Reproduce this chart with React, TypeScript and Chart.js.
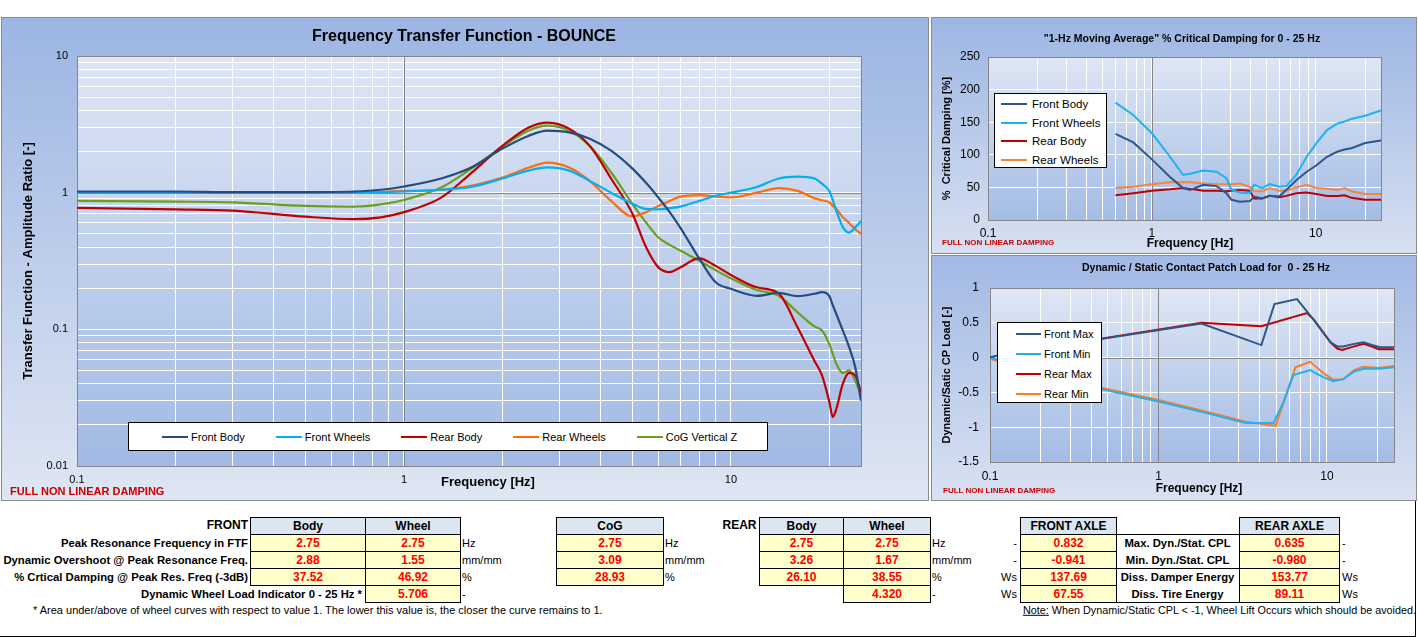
import { Chart, registerables, type ChartConfiguration, type Plugin } from "chart.js";
import { useEffect, useRef, type CSSProperties, type ReactNode } from "react";

Chart.register(...registerables);

const SANS = '"Liberation Sans", Arial, Helvetica, sans-serif';
Chart.defaults.font.family = SANS;
Chart.defaults.color = "#000000";

// ---------- Frequency Transfer Function - BOUNCE ----------
const ftfHz = [
  0.1, 0.2, 0.3, 0.5, 0.7, 0.85, 1, 1.3, 1.6, 2, 2.4, 2.75, 3.2, 3.7, 4.3, 5, 5.5, 6, 6.5, 7, 8, 9, 10,
  12, 14, 16, 18, 19, 20, 20.5, 21, 22, 23, 24, 25,
];
const ftfFrontBody = [
  1.02, 1.02, 1.01, 1.01, 1.02, 1.05, 1.11, 1.27, 1.52, 2.1, 2.6, 2.84, 2.76, 2.48, 2.03, 1.5, 1.18, 0.92,
  0.72, 0.555, 0.33, 0.22, 0.198, 0.176, 0.185, 0.175, 0.182, 0.187, 0.175, 0.15, 0.13, 0.098, 0.074, 0.053,
  0.03,
];
const ftfFrontWheels = [
  1.0, 1.0, 1.0, 1.0, 1.0, 1.01, 1.02, 1.05, 1.1, 1.27, 1.45, 1.53, 1.45, 1.22, 1.0, 0.83, 0.76, 0.755,
  0.77, 0.79, 0.87, 0.95, 1.0, 1.1, 1.27, 1.31, 1.27, 1.16, 1.03, 0.88, 0.74, 0.56, 0.51, 0.557, 0.62,
];
const ftfRearBody = [
  0.773, 0.755, 0.74, 0.667, 0.64, 0.66, 0.72, 0.92, 1.38, 2.2, 2.99, 3.26, 2.94, 2.2, 1.27, 0.7, 0.4, 0.284,
  0.262, 0.284, 0.33, 0.29, 0.25, 0.203, 0.183, 0.103, 0.059, 0.046, 0.0295, 0.0228, 0.026, 0.04, 0.048,
  0.046, 0.0345,
];
const ftfRearWheels = [
  0.995, 0.995, 0.995, 0.995, 1.0, 1.01, 1.03, 1.05, 1.12, 1.29, 1.52, 1.66, 1.53, 1.22, 0.87, 0.67, 0.72,
  0.8, 0.87, 0.935, 0.96, 0.935, 0.924, 1.0, 1.08, 1.03, 0.91, 0.88, 0.85, 0.8, 0.76, 0.66, 0.6, 0.54, 0.5,
];
const ftfCogZ = [
  0.87, 0.86, 0.85, 0.8, 0.79, 0.82, 0.884, 1.09, 1.49, 2.17, 2.84, 3.09, 2.84, 2.2, 1.41, 0.826, 0.606,
  0.47, 0.415, 0.377, 0.318, 0.27, 0.236, 0.194, 0.176, 0.133, 0.105, 0.098, 0.078, 0.066, 0.056, 0.048,
  0.05, 0.042, 0.033,
];
const ftfNames = ["Front Body", "Front Wheels", "Rear Body", "Rear Wheels", "CoG Vertical Z"];
const ftfColors = ["#244c82", "#00b0f0", "#c00000", "#ff6c0c", "#6c9e1a"];
const ftfValues = [ftfFrontBody, ftfFrontWheels, ftfRearBody, ftfRearWheels, ftfCogZ];

// ---------- "1-Hz Moving Average" % Critical Damping ----------
const dampHz = [
  0.6, 0.77, 1, 1.29, 1.55, 1.71, 2.06, 2.48, 2.85, 3.06, 3.44, 3.96, 4.2, 4.7, 5.24, 5.98, 6.6, 7.6, 8.8,
  10.1, 11.7, 13.6, 15, 16.5, 20, 25,
];
const dampFrontBody = [132, 119, 93, 66, 49, 46, 54, 52, 41, 31, 28, 29, 36, 33, 37, 36, 46, 61, 74, 84, 97, 105, 108, 110, 118, 122];
const dampFrontWheels = [180, 161, 133, 97, 69, 71, 76, 74, 64, 46, 42, 41, 54, 49, 55, 51, 52, 69, 97, 118, 138, 148, 151, 155, 160, 168];
const dampRearBody = [38, 41, 45, 47, 49, 48, 45, 45, 44, 45, 46, 45, 33, 33, 37, 35, 37, 41, 42, 40, 37, 37, 38, 34, 31, 31];
const dampRearWheels = [49, 51, 55, 58, 58, 58, 56, 55, 55, 55, 56, 51, 44, 44, 49, 45, 45, 50, 54, 49, 48, 46, 49, 44, 40, 40];
const dampNames = ["Front Body", "Front Wheels", "Rear Body", "Rear Wheels"];
const dampColors = ["#2c568c", "#1db3ed", "#c00000", "#f8843a"];
const dampValues = [dampFrontBody, dampFrontWheels, dampRearBody, dampRearWheels];

// ---------- Dynamic / Static Contact Patch Load ----------
const cplFrontMaxHz = [0.1, 0.12, 1.8, 4.08, 4.88, 6.64, 8.3, 10.5, 11.5, 12.5, 14, 16.5, 18.5, 20.7, 25];
const cplFrontMax = [0, 0.05, 0.49, 0.18, 0.77, 0.84, 0.55, 0.22, 0.16, 0.16, 0.19, 0.22, 0.18, 0.15, 0.15];
const cplFrontMinHz = [0.1, 0.47, 1, 1.8, 3.3, 4.82, 5.55, 6.33, 7.95, 9.5, 10.9, 12.5, 14.5, 16.5, 20.3, 25];
const cplFrontMin = [0, -0.46, -0.63, -0.78, -0.94, -0.94, -0.63, -0.25, -0.18, -0.28, -0.34, -0.31, -0.2, -0.16, -0.16, -0.14];
const cplRearMaxHz = [0.1, 0.12, 1.8, 4.08, 7.6, 8.34, 10.5, 11.5, 12.3, 14, 16.5, 18.5, 20.3, 25];
const cplRearMax = [0, 0.05, 0.5, 0.45, 0.64, 0.55, 0.22, 0.13, 0.11, 0.15, 0.2, 0.16, 0.12, 0.12];
const cplRearMinHz = [0.1, 0.47, 1, 1.8, 3.3, 4.95, 5.55, 6.5, 7.95, 9.5, 10.9, 12.5, 14.5, 16.5, 20.3, 25];
const cplRearMin = [-0.02, -0.44, -0.61, -0.76, -0.92, -0.98, -0.63, -0.14, -0.06, -0.22, -0.32, -0.31, -0.18, -0.13, -0.15, -0.12];
const cplNames = ["Front Max", "Front Min", "Rear Max", "Rear Min"];
const cplColors = ["#2f5687", "#22b1ea", "#c00000", "#f77d2a"];
const cplHz = [cplFrontMaxHz, cplFrontMinHz, cplRearMaxHz, cplRearMinHz];
const cplValues = [cplFrontMax, cplFrontMin, cplRearMax, cplRearMin];

// ---------- result tables ----------
const frontRowLabels = [
  "Peak Resonance Frequency in FTF",
  "Dynamic Overshoot @ Peak Resonance Freq.",
  "% Crtical Damping @ Peak Res. Freq (-3dB)",
];
const rowUnits = ["Hz", "mm/mm", "%", "-"];
const frontBodyVals = ["2.75", "2.88", "37.52"];
const frontWheelVals = ["2.75", "1.55", "46.92", "5.706"];
const cogVals = ["2.75", "3.09", "28.93"];
const rearBodyVals = ["2.75", "3.26", "26.10"];
const rearWheelVals = ["2.75", "1.67", "38.55", "4.320"];
const axleLabels = ["Max. Dyn./Stat. CPL", "Min. Dyn./Stat. CPL", "Diss. Damper Energy", "Diss. Tire Energy"];
const axleUnits = ["-", "-", "Ws", "Ws"];
const frontAxleVals = ["0.832", "-0.941", "137.69", "67.55"];
const rearAxleVals = ["0.635", "-0.980", "153.77", "89.11"];

const ROW_Y = [517, 534, 551, 568, 585];
const ROW_H = 17;

/** Gradient plot area, grey frame and the grey reference lines. */
const plotFrame: Plugin = {
  id: "plotFrame",
  beforeDraw(chart, _args, opts: any) {
    const { ctx, chartArea: a } = chart;
    const g = ctx.createLinearGradient(0, a.top, 0, a.bottom);
    g.addColorStop(0, opts.top);
    g.addColorStop(1, opts.bottom);
    ctx.save();
    ctx.fillStyle = g;
    ctx.fillRect(a.left, a.top, a.right - a.left, a.bottom - a.top);
    ctx.restore();
  },
  beforeDatasetsDraw(chart, _args, opts: any) {
    const { ctx, chartArea: a, scales } = chart;
    ctx.save();
    ctx.strokeStyle = "#868686";
    ctx.lineWidth = 1;
    ctx.beginPath();
    if (opts.refX != null) {
      const x = Math.round(scales.x.getPixelForValue(opts.refX)) + 0.5;
      ctx.moveTo(x, a.top);
      ctx.lineTo(x, a.bottom);
    }
    if (opts.refY != null) {
      const y = Math.round(scales.y.getPixelForValue(opts.refY)) + 0.5;
      ctx.moveTo(a.left, y);
      ctx.lineTo(a.right, y);
    }
    ctx.stroke();
    ctx.strokeRect(Math.round(a.left) + 0.5, Math.round(a.top) + 0.5, Math.round(a.right - a.left), Math.round(a.bottom - a.top));
    ctx.restore();
  },
};

function decadeTicks(min: number, max: number) {
  const out: { value: number }[] = [];
  for (let e = Math.floor(Math.log10(min)); e <= Math.ceil(Math.log10(max)); e++) {
    for (let k = 1; k < 10; k++) {
      const v = Number((k * Math.pow(10, e)).toPrecision(10));
      if (v >= min * 0.9999 && v <= max * 1.0001) out.push({ value: v });
    }
  }
  return out;
}

const isDecade = (v: number) => Math.abs(Math.log10(v) - Math.round(Math.log10(v))) < 1e-6;

function logAxis(min: number, max: number, side: "x" | "y", size: number, padding: number, fontSize: number) {
  return {
    type: "logarithmic",
    min,
    max,
    afterBuildTicks: (axis: any) => {
      axis.ticks = decadeTicks(min, max);
    },
    afterFit: (axis: any) => {
      if (side === "x") axis.height = size;
      else axis.width = size;
    },
    grid: { color: "#ffffff", lineWidth: 1, drawTicks: false },
    border: { display: false },
    ticks: {
      autoSkip: false,
      maxRotation: 0,
      minRotation: 0,
      padding,
      color: "#000000",
      font: { size: fontSize },
      callback: (v: number) => (isDecade(v) ? String(v) : ""),
    },
  };
}

function yTitle(text: string, size: number, pad: number) {
  return { display: true, text, color: "#000000", font: { size, weight: "bold" }, padding: { top: pad, bottom: 0 } };
}

function makeFtfConfig(): ChartConfiguration {
  return {
    type: "line",
    data: {
      datasets: ftfValues.map((vals, i) => ({
        label: ftfNames[i],
        data: ftfHz.map((x, j) => ({ x, y: vals[j] })),
        borderColor: ftfColors[i],
        borderWidth: 2.2,
        pointRadius: 0,
        cubicInterpolationMode: "monotone",
        fill: false,
      })),
    },
    options: {
      animation: false,
      responsive: true,
      maintainAspectRatio: false,
      layout: { padding: { top: 38, right: 66, left: 0, bottom: 0 } },
      plugins: {
        legend: { display: false },
        tooltip: { enabled: false },
        plotFrame: { top: "#dee6f4", bottom: "#a1b9e4", refX: 1, refY: 1 },
      } as any,
      scales: {
        x: logAxis(0.1, 25, "x", 34, 7, 11),
        y: { ...logAxis(0.01, 10, "y", 75, 9, 11), title: yTitle("Transfer Function - Amplitude Ratio [-]", 13, 19) },
      } as any,
    },
    plugins: [plotFrame],
  };
}

function makeDampConfig(): ChartConfiguration {
  return {
    type: "line",
    data: {
      datasets: dampValues.map((vals, i) => ({
        label: dampNames[i],
        data: dampHz.map((x, j) => ({ x, y: vals[j] })),
        borderColor: dampColors[i],
        borderWidth: 2,
        pointRadius: 0,
        tension: 0,
        fill: false,
      })),
    },
    options: {
      animation: false,
      responsive: true,
      maintainAspectRatio: false,
      layout: { padding: { top: 39, right: 35, left: 0, bottom: 0 } },
      plugins: {
        legend: { display: false },
        tooltip: { enabled: false },
        plotFrame: { top: "#dfe7f4", bottom: "#a4bce6", refX: 1 },
      } as any,
      scales: {
        x: logAxis(0.1, 25, "x", 33, 6, 12),
        y: {
          type: "linear",
          min: 0,
          max: 250,
          afterFit: (axis: any) => {
            axis.width = 56;
          },
          grid: { color: "#ffffff", drawTicks: false },
          border: { display: false },
          ticks: { stepSize: 50, padding: 8, font: { size: 12 }, color: "#000000" },
          title: yTitle("%  Critical Damping [%]", 11, 8),
        },
      } as any,
    },
    plugins: [plotFrame],
  };
}

function makeCplConfig(): ChartConfiguration {
  return {
    type: "line",
    data: {
      datasets: cplValues.map((vals, i) => ({
        label: cplNames[i],
        data: cplHz[i].map((x, j) => ({ x, y: vals[j] })),
        borderColor: cplColors[i],
        borderWidth: 2,
        pointRadius: 0,
        tension: 0,
        fill: false,
      })),
    },
    options: {
      animation: false,
      responsive: true,
      maintainAspectRatio: false,
      layout: { padding: { top: 32, right: 22, left: 0, bottom: 0 } },
      plugins: {
        legend: { display: false },
        tooltip: { enabled: false },
        plotFrame: { top: "#dfe7f4", bottom: "#a3bbe5", refX: 1, refY: 0 },
      } as any,
      scales: {
        x: logAxis(0.1, 25, "x", 38, 7, 12),
        y: {
          type: "linear",
          min: -1.5,
          max: 1,
          afterFit: (axis: any) => {
            axis.width = 58;
          },
          grid: { color: "#ffffff", drawTicks: false },
          border: { display: false },
          ticks: {
            stepSize: 0.5,
            padding: 11,
            font: { size: 12 },
            color: "#000000",
            callback: (v: number) => String(v),
          },
          title: yTitle("Dynamic/Satic CP Load [-]", 11, 8),
        },
      } as any,
    },
    plugins: [plotFrame],
  };
}

type Box = { left: number; top: number; width: number; height: number };

function ChartCanvas({ makeConfig, box }: { makeConfig: () => ChartConfiguration; box: Box }) {
  const canvasRef = useRef<HTMLCanvasElement>(null);

  useEffect(() => {
    if (!canvasRef.current) {
      return undefined;
    }
    const chart = new Chart(canvasRef.current, makeConfig());
    return () => chart.destroy();
  }, [makeConfig]);

  return (
    <div style={{ position: "absolute", ...box }}>
      <canvas ref={canvasRef} />
    </div>
  );
}

type TProps = { x: number; y: number; anchor?: "start" | "middle" | "end"; style?: CSSProperties; children: ReactNode };

/** Text placed by its anchor point; y is the vertical centre. */
function T({ x, y, anchor = "start", style, children }: TProps) {
  const dx = anchor === "start" ? "0" : anchor === "middle" ? "-50%" : "-100%";
  return (
    <div
      style={{
        position: "absolute",
        left: x,
        top: y,
        transform: `translate(${dx}, -50%)`,
        whiteSpace: "pre",
        lineHeight: 1.15,
        fontFamily: SANS,
        ...style,
      }}
    >
      {children}
    </div>
  );
}

function Panel({ box, from, to }: { box: Box; from: string; to: string }) {
  return (
    <div
      style={{
        position: "absolute",
        ...box,
        boxSizing: "border-box",
        border: "1px solid #8c8c8c",
        background: `linear-gradient(to bottom, ${from}, ${to})`,
      }}
    />
  );
}

function Key({ color, label, line, gap }: { color: string; label: string; line: number; gap: number }) {
  return (
    <span style={{ display: "inline-flex", alignItems: "center", whiteSpace: "nowrap" }}>
      <span style={{ display: "inline-block", width: line, borderTop: `2.5px solid ${color}`, marginRight: gap }} />
      {label}
    </span>
  );
}

function Cell({ x0, x1, row, rows = 1, kind, children }: { x0: number; x1: number; row: number; rows?: number; kind: "head" | "value" | "plain"; children?: ReactNode }) {
  const bg = kind === "head" ? "#dce6f1" : kind === "value" ? "#ffffcc" : "#ffffff";
  return (
    <div
      style={{
        position: "absolute",
        left: x0,
        top: ROW_Y[row],
        width: x1 - x0 + 1,
        height: ROW_H * rows + 1,
        boxSizing: "border-box",
        border: "1px solid #000000",
        background: bg,
        color: kind === "value" ? "#ff0000" : "#000000",
        fontFamily: SANS,
        fontWeight: "bold",
        fontSize: 12,
        display: "flex",
        alignItems: "center",
        justifyContent: "center",
      }}
    >
      {children}
    </div>
  );
}

const rowMid = (r: number) => ROW_Y[r] + ROW_H / 2 + 0.5;
const labelStyle: CSSProperties = { fontWeight: "bold", fontSize: 11.3 };
const unitStyle: CSSProperties = { fontSize: 11 };
const redNote: CSSProperties = { color: "#cc0000", fontWeight: "bold" };

export default function App() {
  return (
    <div
      style={{
        position: "fixed",
        left: 0,
        top: 0,
        width: 1418,
        height: 637,
        background: "#ffffff",
        overflow: "hidden",
        fontFamily: SANS,
        color: "#000000",
      }}
    >
      {/* main chart */}
      <Panel box={{ left: 1, top: 17, width: 928, height: 484 }} from="#9cb5e3" to="#dfe6f3" />
      <ChartCanvas makeConfig={makeFtfConfig} box={{ left: 2, top: 18, width: 925, height: 482 }} />
      <T x={464} y={36} anchor="middle" style={{ fontWeight: "bold", fontSize: 16 }}>
        Frequency Transfer Function - BOUNCE
      </T>
      <T x={488} y={482} anchor="middle" style={{ fontWeight: "bold", fontSize: 13 }}>
        Frequency [Hz]
      </T>
      <T x={10} y={491} style={{ ...redNote, fontSize: 11 }}>
        FULL NON LINEAR DAMPING
      </T>
      <div
        style={{
          position: "absolute",
          left: 128,
          top: 422,
          width: 640,
          height: 29,
          boxSizing: "border-box",
          border: "1px solid #000000",
          background: "#ffffff",
          display: "flex",
          alignItems: "center",
          paddingLeft: 33,
          gap: 31,
          fontSize: 11,
        }}
      >
        {ftfNames.map((n, i) => (
          <Key key={n} color={ftfColors[i]} label={n} line={26} gap={3} />
        ))}
      </div>

      {/* % critical damping */}
      <Panel box={{ left: 931, top: 17, width: 486, height: 237 }} from="#9db6e3" to="#d7e0f1" />
      <ChartCanvas makeConfig={makeDampConfig} box={{ left: 932, top: 18, width: 484, height: 235 }} />
      <T x={1182} y={38} anchor="middle" style={{ fontWeight: "bold", fontSize: 10.5 }}>
        "1-Hz Moving Average" % Critical Damping for 0 - 25 Hz
      </T>
      <T x={1190} y={244} anchor="middle" style={{ fontWeight: "bold", fontSize: 12 }}>
        Frequency [Hz]
      </T>
      <T x={942} y={243} style={{ ...redNote, fontSize: 8 }}>
        FULL NON LINEAR DAMPING
      </T>
      <div
        style={{
          position: "absolute",
          left: 994,
          top: 93,
          width: 113,
          height: 75,
          boxSizing: "border-box",
          border: "1px solid #000000",
          background: "#ffffff",
          paddingLeft: 6,
          paddingTop: 1,
          fontSize: 11.5,
        }}
      >
        {dampNames.map((n, i) => (
          <div key={n} style={{ height: 18.5, display: "flex", alignItems: "center" }}>
            <Key color={dampColors[i]} label={n} line={26} gap={5} />
          </div>
        ))}
      </div>

      {/* contact patch load */}
      <Panel box={{ left: 931, top: 255, width: 486, height: 246 }} from="#a2b9e5" to="#d9e2f2" />
      <ChartCanvas makeConfig={makeCplConfig} box={{ left: 932, top: 256, width: 484, height: 244 }} />
      <T x={1206} y={267} anchor="middle" style={{ fontWeight: "bold", fontSize: 10.5 }}>
        Dynamic / Static Contact Patch Load for  0 - 25 Hz
      </T>
      <T x={1199} y={489} anchor="middle" style={{ fontWeight: "bold", fontSize: 12 }}>
        Frequency [Hz]
      </T>
      <T x={943} y={491} style={{ ...redNote, fontSize: 8 }}>
        FULL NON LINEAR DAMPING
      </T>
      <div
        style={{
          position: "absolute",
          left: 997,
          top: 322,
          width: 105,
          height: 81,
          boxSizing: "border-box",
          border: "1px solid #000000",
          background: "#ffffff",
          paddingLeft: 18,
          paddingTop: 1,
          fontSize: 11,
        }}
      >
        {cplNames.map((n, i) => (
          <div key={n} style={{ height: 20, display: "flex", alignItems: "center" }}>
            <Key color={cplColors[i]} label={n} line={25} gap={3} />
          </div>
        ))}
      </div>

      {/* table frame */}
      <div
        style={{
          position: "absolute",
          left: -1,
          top: 501,
          width: 1417,
          height: 136,
          boxSizing: "border-box",
          borderRight: "1px solid #000000",
          borderBottom: "1px solid #000000",
        }}
      />

      {/* FRONT block */}
      <T x={248} y={rowMid(0)} anchor="end" style={{ fontWeight: "bold", fontSize: 12 }}>
        FRONT
      </T>
      <Cell x0={250} x1={365} row={0} kind="head">Body</Cell>
      <Cell x0={365} x1={460} row={0} kind="head">Wheel</Cell>
      {frontRowLabels.map((l, r) => (
        <T key={l} x={248} y={rowMid(r + 1)} anchor="end" style={labelStyle}>
          {l}
        </T>
      ))}
      {frontBodyVals.map((v, r) => (
        <Cell key={"fb" + r} x0={250} x1={365} row={r + 1} kind="value">{v}</Cell>
      ))}
      {frontWheelVals.map((v, r) => (
        <Cell key={"fw" + r} x0={365} x1={460} row={r + 1} kind="value">{v}</Cell>
      ))}
      <T x={362} y={rowMid(4)} anchor="end" style={labelStyle}>
        Dynamic Wheel Load Indicator 0 - 25 Hz *
      </T>
      {rowUnits.map((u, r) => (
        <T key={"fu" + r} x={462} y={rowMid(r + 1)} style={unitStyle}>
          {u}
        </T>
      ))}

      {/* CoG block */}
      <Cell x0={556} x1={663} row={0} kind="head">CoG</Cell>
      {cogVals.map((v, r) => (
        <Cell key={"cg" + r} x0={556} x1={663} row={r + 1} kind="value">{v}</Cell>
      ))}
      {rowUnits.slice(0, 3).map((u, r) => (
        <T key={"cu" + r} x={665} y={rowMid(r + 1)} style={unitStyle}>
          {u}
        </T>
      ))}

      {/* REAR block */}
      <T x={756.5} y={rowMid(0)} anchor="end" style={{ fontWeight: "bold", fontSize: 12 }}>
        REAR
      </T>
      <Cell x0={759} x1={843} row={0} kind="head">Body</Cell>
      <Cell x0={843} x1={930} row={0} kind="head">Wheel</Cell>
      {rearBodyVals.map((v, r) => (
        <Cell key={"rb" + r} x0={759} x1={843} row={r + 1} kind="value">{v}</Cell>
      ))}
      {rearWheelVals.map((v, r) => (
        <Cell key={"rw" + r} x0={843} x1={930} row={r + 1} kind="value">{v}</Cell>
      ))}
      {rowUnits.map((u, r) => (
        <T key={"ru" + r} x={932} y={rowMid(r + 1)} style={unitStyle}>
          {u}
        </T>
      ))}

      {/* axle block */}
      <Cell x0={1020} x1={1116} row={0} kind="head">FRONT AXLE</Cell>
      <Cell x0={1239} x1={1339} row={0} kind="head">REAR AXLE</Cell>
      <Cell x0={1116} x1={1239} row={1} rows={2} kind="plain" />
      <Cell x0={1116} x1={1239} row={3} rows={2} kind="plain" />
      {frontAxleVals.map((v, r) => (
        <Cell key={"fa" + r} x0={1020} x1={1116} row={r + 1} kind="value">{v}</Cell>
      ))}
      {rearAxleVals.map((v, r) => (
        <Cell key={"ra" + r} x0={1239} x1={1339} row={r + 1} kind="value">{v}</Cell>
      ))}
      {axleLabels.map((l, r) => (
        <T key={l} x={1177.5} y={rowMid(r + 1)} anchor="middle" style={labelStyle}>
          {l}
        </T>
      ))}
      {axleUnits.map((u, r) => (
        <T key={"al" + r} x={1017} y={rowMid(r + 1)} anchor="end" style={unitStyle}>
          {u}
        </T>
      ))}
      {axleUnits.map((u, r) => (
        <T key={"ar" + r} x={1342} y={rowMid(r + 1)} style={unitStyle}>
          {u}
        </T>
      ))}

      {/* notes */}
      <T x={33} y={610} style={{ fontSize: 11 }}>
        * Area under/above of wheel curves with respect to value 1. The lower this value is, the closer the curve
        remains to 1.
      </T>
      <T x={1023} y={610} style={{ fontSize: 10.8 }}>
        <span style={{ textDecoration: "underline" }}>Note:</span> When Dynamic/Static CPL &lt; -1, Wheel Lift
        Occurs which should be avoided.
      </T>
    </div>
  );
}
